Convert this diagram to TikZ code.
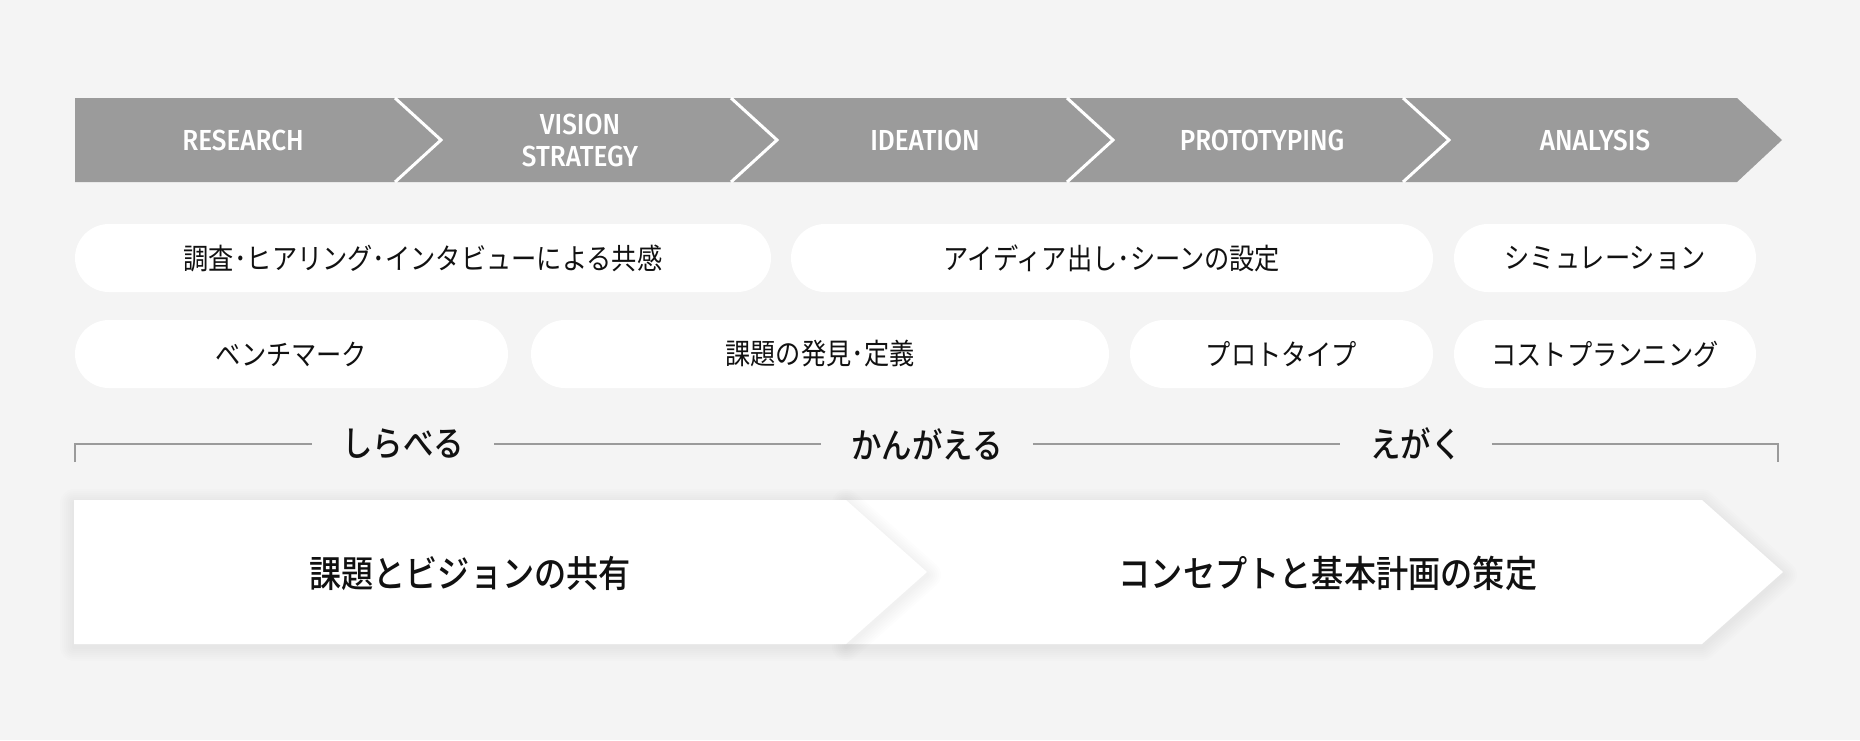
\documentclass[tikz,border=0pt]{standalone}
\usepackage{fontspec}
\newfontfamily\jp[FakeStretch=0.87]{Noto Sans CJK JP}
\newfontfamily\jpmed[FakeStretch=0.87]{Noto Sans CJK JP Medium}
\newfontfamily\din[FakeStretch=0.9]{Fira Sans Medium}
\definecolor{bggray}{HTML}{F4F4F4}
\definecolor{bandgray}{HTML}{9B9B9B}
\definecolor{rulegray}{HTML}{9A9A9A}
\definecolor{ink}{HTML}{111111}

\begin{document}
\begin{tikzpicture}[x=1pt,y=-1pt]
\tikzstyle{phase}=[text=white,font=\din\fontsize{29}{32}\selectfont,align=center,inner sep=0pt]
\tikzstyle{pill}=[fill=white,rounded corners=34pt,minimum height=68pt,inner sep=0pt,font=\jp\fontsize{29}{34}\selectfont,text=ink]
\tikzstyle{stage}=[inner xsep=30pt,inner ysep=0pt,font=\jpmed\fontsize{35}{40}\selectfont,text=ink]
\tikzstyle{goal}=[font=\jpmed\fontsize{37}{42}\selectfont,text=ink]
\tikzstyle{sep}=[white,line width=3pt]
\tikzstyle{glow}=[black,opacity=0.008,line join=round]
\fill[bggray] (0,0) rectangle (1860,740);
\useasboundingbox (0,0) rectangle (1860,740);
% phase band
\fill[bandgray] (75,98) -- (1737,98) -- (1782,140) -- (1737,182) -- (75,182) -- cycle;
\foreach \x in {395,731,1067,1403}
	\draw[sep] (\x,98) -- ++(46,42) -- ++(-46,42);
\foreach \name/\x/\txt in {
	research/243/RESEARCH,
	vision/580/{VISION\\STRATEGY},
	ideation/925/IDEATION,
	proto/1262/PROTOTYPING,
	analysis/1595/ANALYSIS}
	\node[phase] (\name) at (\x,140) {\txt};
% pills
\foreach \name/\point/\w/\txt in {
	hearing/{423,258}/696/調査･ヒアリング･インタビューによる共感,
	idea/{1112,258}/642/アイディア出し･シーンの設定,
	simu/{1605,258}/302/シミュレーション,
	bench/{291.5,354}/433/ベンチマーク,
	issue/{820,354}/578/課題の発見･定義,
	proto2/{1281.5,354}/303/プロトタイプ,
	cost/{1605,354}/302/コストプランニング}
	\node[pill,minimum width=\w pt] (\name) at (\point) {\txt};
% bracket
\coordinate (brL) at (75,462);
\coordinate (brLt) at (75,444);
\coordinate (brRt) at (1778,444);
\coordinate (brR) at (1778,462);
\node[stage] (shirabe) at (403,444) {しらべる};
\node[stage] (kangae) at (927,444) {かんがえる};
\node[stage] (egaku) at (1416,444) {えがく};
\draw[rulegray,line width=1.5pt] (brL) -- (brLt) -- (shirabe.west);
\draw[rulegray,line width=1.5pt] (shirabe.east) -- (kangae.west);
\draw[rulegray,line width=1.5pt] (kangae.east) -- (egaku.west);
\draw[rulegray,line width=1.5pt] (egaku.east) -- (brRt) -- (brR);
% goal arrows
\def\arrowtwo{(846,500) -- (1702,500) -- (1783,572) -- (1702,644) -- (846,644) -- cycle}
\def\arrowone{(74,500) -- (846,500) -- (927,572) -- (846,644) -- (74,644) -- cycle}
\foreach \w in {4,8,...,28}
	\draw[glow,line width=\w pt,shift={(0,3)}] \arrowtwo;
\fill[white] \arrowtwo;
\foreach \w in {4,8,...,28}
	\draw[glow,line width=\w pt,shift={(0,3)}] \arrowone;
\fill[white] \arrowone;
\node[goal] (share) at (470,573) {課題とビジョンの共有};
\node[goal] (plan) at (1328,573) {コンセプトと基本計画の策定};
\end{tikzpicture}
\end{document}
